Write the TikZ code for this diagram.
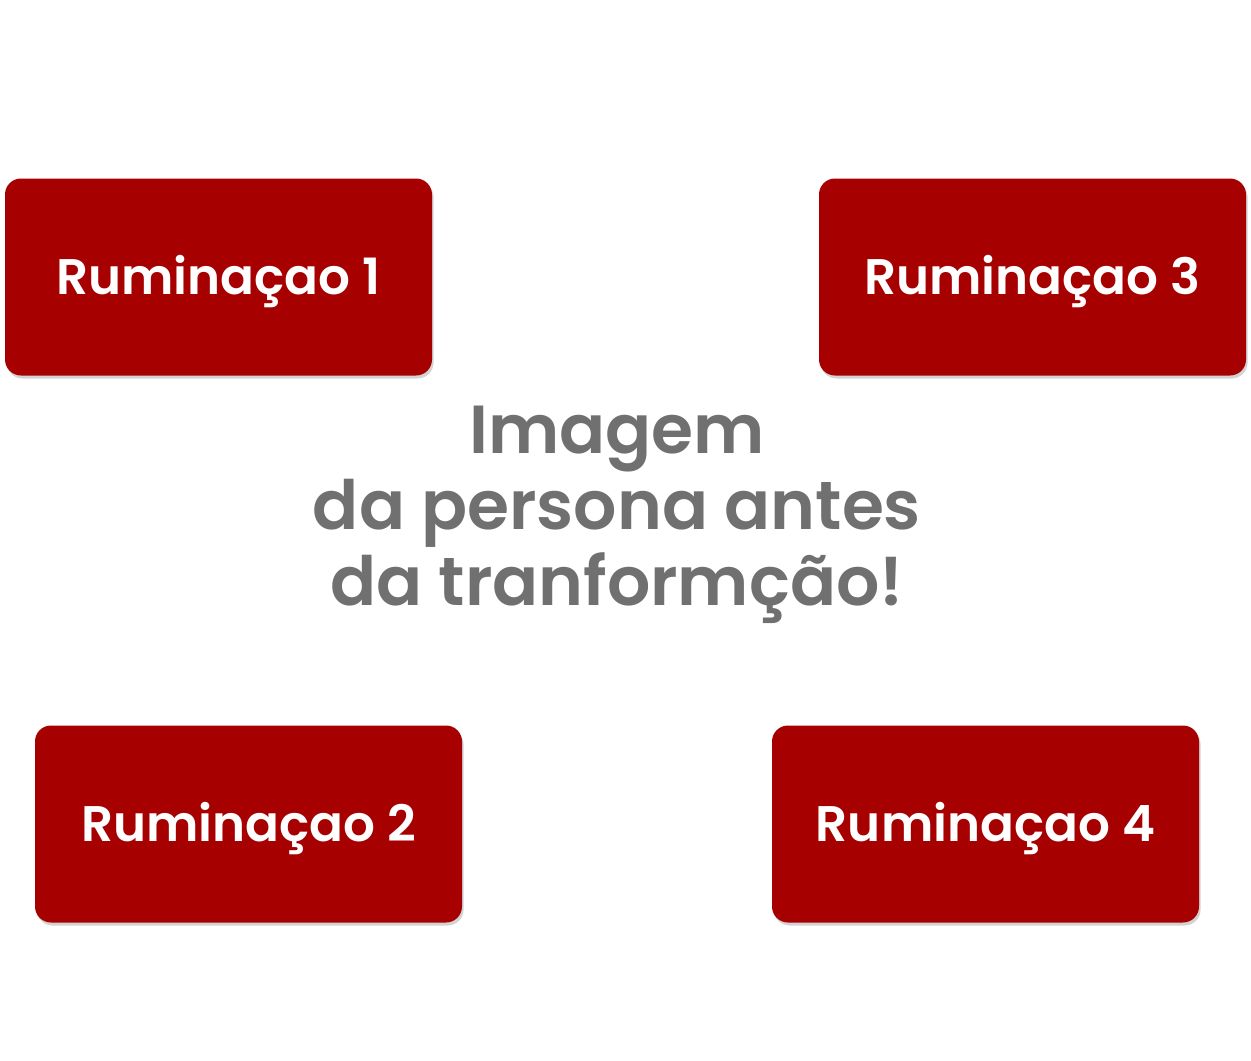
\documentclass[tikz,border=0pt]{standalone}
\usepackage{fontspec}
\setmainfont{Poppins}
\newfontfamily\popsb{Poppins SemiBold}
\usepackage{tikz}
\usetikzlibrary{shadows}
\definecolor{rumred}{HTML}{A60000}
\definecolor{txtgray}{HTML}{707070}

\begin{document}
\begin{tikzpicture}[x=0.5pt,y=-0.5pt,
    rumbox/.style={fill=rumred,rounded corners=8pt,minimum width=213.5pt,minimum height=98.5pt,
      text=white,font=\popsb\fontsize{25}{30}\selectfont,text height=17.5pt,text depth=0pt,
      drop shadow={opacity=0.35,shadow xshift=0.8pt,shadow yshift=-1.5pt}},
    centertext/.style={text=txtgray,align=center,font=\popsb\fontsize{34}{38}\selectfont}]

    \useasboundingbox (0,0) rectangle (1251,1060);

    \node[rumbox] (rum1) at (218.5,277) {Ruminaçao 1};
    \node[rumbox] (rum3) at (1032.5,277) {Ruminaçao 3};
    \node[rumbox] (rum2) at (248.5,824) {Ruminaçao 2};
    \node[rumbox] (rum4) at (985.5,824) {Ruminaçao 4};

    \node[centertext] (persona) at (617,515) {Imagem\\da persona antes\\da tranformção!};

\end{tikzpicture}
\end{document}
